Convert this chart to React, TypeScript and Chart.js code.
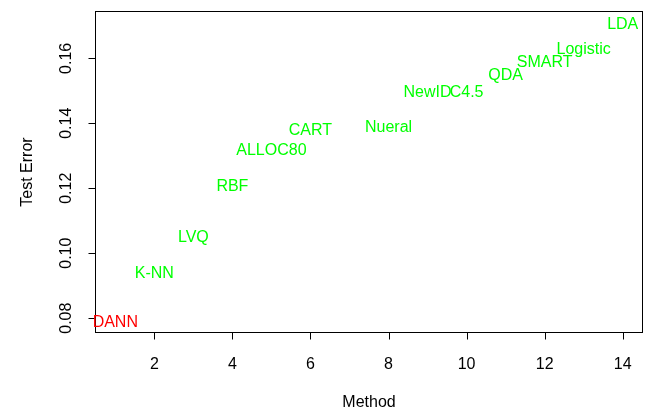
import React, { useEffect, useRef } from "react";
import { Chart, registerables } from "chart.js";

Chart.register(...registerables);

const methods = ["DANN", "K-NN", "LVQ", "RBF", "ALLOC80", "CART", "Nueral", "NewID", "C4.5", "QDA", "SMART", "Logistic", "LDA"];
const methodIndex = [1, 2, 3, 4, 5, 6, 8, 9, 10, 11, 12, 13, 14];
const testError = [0.0791, 0.0942, 0.1051, 0.121, 0.1319, 0.1381, 0.1392, 0.1499, 0.1499, 0.1552, 0.1591, 0.163, 0.1709];
const labelColors = ["#FF0000", "#00FF00", "#00FF00", "#00FF00", "#00FF00", "#00FF00", "#00FF00", "#00FF00", "#00FF00", "#00FF00", "#00FF00", "#00FF00", "#00FF00"];
const xTicks = [2, 4, 6, 8, 10, 12, 14];
const xTickLabels = ["2", "4", "6", "8", "10", "12", "14"];
const yTicks = [0.08, 0.1, 0.12, 0.14, 0.16];
const yTickLabels = ["0.08", "0.10", "0.12", "0.14", "0.16"];
const xTitle = "Method";
const yTitle = "Test Error";

const FONT = "16px 'Liberation Sans', Arial, Helvetica, sans-serif";
const CAP_HALF = 5.7;

function rRange(v: number[]) {
  const lo = Math.min(...v);
  const hi = Math.max(...v);
  const e = (hi - lo) * 0.04;
  return [lo - e, hi + e];
}

const rPlot = {
  id: "rplot",
  afterDraw(chart: any) {
    const { ctx, chartArea: a, scales } = chart;
    const x = scales.x;
    const y = scales.y;
    ctx.save();
    ctx.strokeStyle = "#000";
    ctx.lineWidth = 1;
    // box
    ctx.strokeRect(a.left + 0.5, a.top + 0.5, a.right - a.left - 1, a.bottom - a.top - 1);
    // x axis
    const bx = a.bottom - 0.5;
    ctx.beginPath();
    ctx.moveTo(x.getPixelForValue(xTicks[0]), bx);
    ctx.lineTo(x.getPixelForValue(xTicks[xTicks.length - 1]), bx);
    xTicks.forEach((t) => {
      const px = Math.round(x.getPixelForValue(t)) + 0.5;
      ctx.moveTo(px, bx);
      ctx.lineTo(px, bx + 7);
    });
    ctx.stroke();
    // y axis
    const lx = a.left + 0.5;
    ctx.beginPath();
    ctx.moveTo(lx, y.getPixelForValue(yTicks[0]));
    ctx.lineTo(lx, y.getPixelForValue(yTicks[yTicks.length - 1]));
    yTicks.forEach((t) => {
      const py = Math.round(y.getPixelForValue(t)) + 0.5;
      ctx.moveTo(lx, py);
      ctx.lineTo(lx - 7, py);
    });
    ctx.stroke();

    ctx.fillStyle = "#000";
    ctx.font = FONT;
    ctx.textAlign = "center";
    ctx.textBaseline = "alphabetic";
    xTicks.forEach((t, i) => {
      ctx.fillText(xTickLabels[i], x.getPixelForValue(t), a.bottom + 35.5);
    });
    yTicks.forEach((t, i) => {
      ctx.save();
      ctx.translate(a.left - 24, y.getPixelForValue(t));
      ctx.rotate(-Math.PI / 2);
      ctx.fillText(yTickLabels[i], 0, 0);
      ctx.restore();
    });
    ctx.fillText(xTitle, (a.left + a.right) / 2, 406.5);
    ctx.save();
    ctx.translate(32, (a.top + a.bottom) / 2);
    ctx.rotate(-Math.PI / 2);
    ctx.fillText(yTitle, 0, 0);
    ctx.restore();

    // point labels
    methods.forEach((m, i) => {
      ctx.fillStyle = labelColors[i];
      ctx.fillText(m, x.getPixelForValue(methodIndex[i]), y.getPixelForValue(testError[i]) + CAP_HALF);
    });
    ctx.restore();
  },
};

export default function App() {
  const ref = useRef<HTMLCanvasElement>(null);
  useEffect(() => {
    if (!ref.current) return;
    const [xmin, xmax] = rRange(methodIndex);
    const [ymin, ymax] = rRange(testError);
    const chart = new Chart(ref.current, {
      type: "scatter",
      data: {
        datasets: [
          {
            data: methodIndex.map((m, i) => ({ x: m, y: testError[i] })),
            pointRadius: 0,
            pointHoverRadius: 0,
          },
        ],
      },
      options: {
        responsive: false,
        animation: false,
        layout: { padding: { left: 95, right: 13, top: 11, bottom: 75 } },
        plugins: { legend: { display: false }, tooltip: { enabled: false } },
        events: [],
        scales: {
          x: { type: "linear", display: false, min: xmin, max: xmax },
          y: { type: "linear", display: false, min: ymin, max: ymax },
        },
      },
      plugins: [rPlot],
    });
    return () => chart.destroy();
  }, []);
  return (
    <div style={{ position: "fixed", left: 0, top: 0, width: 656, height: 408, background: "#fff" }}>
      <canvas ref={ref} width={656} height={408} />
    </div>
  );
}
